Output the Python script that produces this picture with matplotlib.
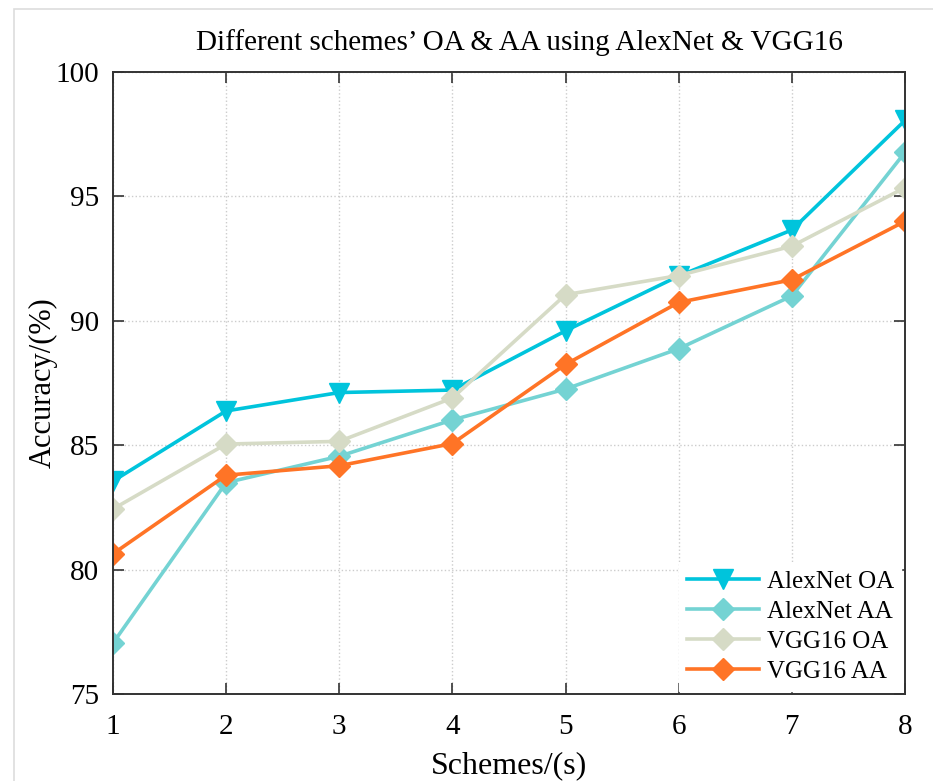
import matplotlib
matplotlib.use('Agg')
import matplotlib.pyplot as plt
from matplotlib.patches import Rectangle

schemes = [1, 2, 3, 4, 5, 6, 7, 8]
alexnet_oa = [83.56, 86.38, 87.12, 87.22, 89.6, 91.8, 93.65, 98.05]
alexnet_aa = [77.05, 83.5, 84.56, 86.02, 87.26, 88.88, 91.0, 96.77]
vgg16_oa = [82.44, 85.05, 85.16, 86.9, 91.05, 91.82, 93.0, 95.35]
vgg16_aa = [80.64, 83.8, 84.18, 85.07, 88.25, 90.74, 91.65, 94.0]

plt.rcParams['font.family'] = ['Liberation Serif', 'DejaVu Serif']

fig = plt.figure(figsize=(9.33, 7.81), dpi=100)
ax = fig.add_axes([0.121, 0.111, 0.849, 0.797])

# faint frame around the whole picture
fig.patches.append(Rectangle((0.015, -0.01), 1.0, 0.998, transform=fig.transFigure,
                             fill=False, edgecolor='#dddddd', linewidth=1.2))

ax.plot(schemes, alexnet_oa, color='#00c4dc', linewidth=2.6, marker='v',
        markersize=14, label='AlexNet OA')
ax.plot(schemes, alexnet_aa, color='#74d3d3', linewidth=2.6, marker='D',
        markersize=11, label='AlexNet AA')
ax.plot(schemes, vgg16_oa, color='#d6dbc6', linewidth=2.6, marker='D',
        markersize=11, label='VGG16 OA')
ax.plot(schemes, vgg16_aa, color='#ff7426', linewidth=2.6, marker='D',
        markersize=11, label='VGG16 AA')

ax.set_xlim(1, 8)
ax.set_ylim(75, 100)
ax.set_xticks(schemes)
ax.set_yticks([75, 80, 85, 90, 95, 100])
ax.grid(True, linestyle=':', color='#cccccc', linewidth=1.0)
ax.tick_params(axis='both', direction='in', length=8, width=1.2, labelsize=21,
               top=True, right=True, color='#333333')
ax.tick_params(axis='x', pad=14)
ax.tick_params(axis='y', pad=10)
for s in ax.spines.values():
    s.set_color('#333333')
    s.set_linewidth(1.4)

ax.set_xlabel('Schemes/(s)', fontsize=23, labelpad=8)
ax.set_ylabel('Accuracy/(%)', fontsize=22, labelpad=-2)
ax.set_title("Different schemes\u2019 OA & AA using AlexNet & VGG16", fontsize=21,
             pad=16, x=0.513)

leg = ax.legend(loc='lower right', fontsize=18, handlelength=2.9, frameon=True,
                fancybox=False, edgecolor='white', facecolor='white', framealpha=1.0,
                borderaxespad=0.15, labelspacing=0.3, handletextpad=0.3,
                borderpad=0.3)

fig.savefig('out.png', dpi=100)
